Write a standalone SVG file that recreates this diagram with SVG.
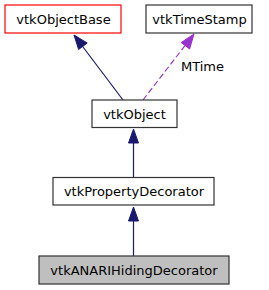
<svg xmlns="http://www.w3.org/2000/svg" width="269" height="290" viewBox="0 0 269 290">
<style>
text{font-family:"DejaVu Sans",sans-serif;font-size:13px;fill:#000}
.n{text-anchor:middle}
.box{fill:#fff;stroke:#333;stroke-width:1.2}
.inh{stroke:#191970;stroke-width:1.2;fill:none}
.use{stroke:#9a32cd;stroke-width:1.2;fill:none;stroke-dasharray:6,3}
</style>
<rect width="269" height="290" fill="#fff"/>
<g id="connectors">
<line class="inh" x1="123" y1="100" x2="80" y2="43"/>
<polygon points="74,35 78.6,49.5 87.2,43" fill="#191970" stroke="#191970"/>
<line class="use" x1="143" y1="100" x2="187" y2="43"/>
<polygon points="194,34 181.2,42.5 189.6,49" fill="#9a32cd" stroke="#9a32cd"/>
<text x="181" y="71">MTime</text>
<line class="inh" x1="133.5" y1="177" x2="133.5" y2="142"/>
<polygon points="133.5,129 128.5,143 138.5,143" fill="#191970" stroke="#191970"/>
<line class="inh" x1="133.5" y1="256" x2="133.5" y2="220"/>
<polygon points="133.5,207 128.5,221 138.5,221" fill="#191970" stroke="#191970"/>
</g>
<g id="vtkObjectBase">
<rect class="box" x="5" y="5" width="116" height="28" style="stroke:#ff0000"/>
<text class="n" x="63.5" y="24">vtkObjectBase</text>
</g>
<g id="vtkTimeStamp">
<rect class="box" x="146" y="5" width="106" height="28"/>
<text class="n" x="199.5" y="24">vtkTimeStamp</text>
</g>
<g id="vtkObject">
<rect class="box" x="92" y="100" width="85" height="27.5"/>
<text class="n" x="134.5" y="118.5">vtkObject</text>
</g>
<g id="vtkPropertyDecorator">
<rect class="box" x="53" y="177.5" width="161" height="27.5"/>
<text class="n" x="134" y="196">vtkPropertyDecorator</text>
</g>
<g id="vtkANARIHidingDecorator">
<rect class="box" x="39" y="256" width="190" height="28" style="fill:#bfbfbf"/>
<text class="n" x="134" y="275">vtkANARIHidingDecorator</text>
</g>
</svg>
